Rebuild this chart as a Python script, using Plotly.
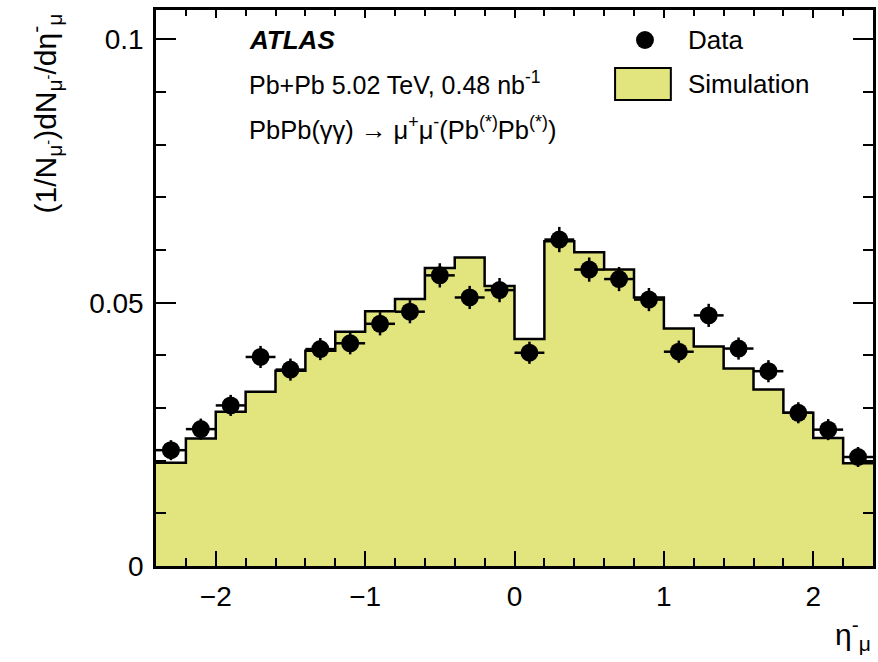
import plotly.graph_objects as go

# Bin layout in eta of the negative muon
bin_edges = [-2.4, -2.2, -2.0, -1.8, -1.6, -1.4, -1.2, -1.0, -0.8, -0.6, -0.4, -0.2,
             0.0, 0.2, 0.4, 0.6, 0.8, 1.0, 1.2, 1.4, 1.6, 1.8, 2.0, 2.2, 2.4]
bin_centers = [-2.3, -2.1, -1.9, -1.7, -1.5, -1.3, -1.1, -0.9, -0.7, -0.5, -0.3, -0.1,
               0.1, 0.3, 0.5, 0.7, 0.9, 1.1, 1.3, 1.5, 1.7, 1.9, 2.1, 2.3]
bin_half_width = [0.1] * 24

# Measured normalised distribution
data_values = [0.0220, 0.0260, 0.0305, 0.0397, 0.0373, 0.0412, 0.0423, 0.0460,
               0.0483, 0.0552, 0.0510, 0.0524, 0.0405, 0.0620, 0.0563, 0.0545,
               0.0506, 0.0407, 0.0476, 0.0413, 0.0370, 0.0291, 0.0259, 0.0207]
data_errors = [0.0019, 0.0020, 0.0020, 0.0021, 0.0021, 0.0021, 0.0021, 0.0022,
               0.0022, 0.0023, 0.0022, 0.0023, 0.0021, 0.0024, 0.0023, 0.0023,
               0.0022, 0.0021, 0.0022, 0.0021, 0.0021, 0.0020, 0.0020, 0.0019]

# Simulated distribution (one value per bin)
sim_values = [0.0196, 0.0242, 0.0293, 0.0331, 0.0371, 0.0409, 0.0445, 0.0484,
              0.0507, 0.0566, 0.0586, 0.0532, 0.0431, 0.0617, 0.0596, 0.0563,
              0.0510, 0.0451, 0.0417, 0.0375, 0.0335, 0.0291, 0.0243, 0.0195]

X_RANGE = [-2.4, 2.4]
Y_RANGE = [0, 0.1056]

FONT = "Liberation Sans, Arial, Helvetica, sans-serif"
FILL = "#E2E47E"

fig = go.Figure()

# Simulation histogram as a filled step outline
fig.add_trace(go.Scatter(
    x=bin_edges,
    y=sim_values + [sim_values[-1]],
    mode="lines",
    line=dict(shape="hv", color="black", width=2.5),
    fill="tozeroy",
    fillcolor=FILL,
    hoverinfo="skip",
    showlegend=False,
))

# Data points with bin-width and statistical error bars
fig.add_trace(go.Scatter(
    x=bin_centers,
    y=data_values,
    mode="markers",
    marker=dict(color="black", size=18, symbol="circle"),
    error_x=dict(type="data", array=bin_half_width, color="black", thickness=2.5, width=0),
    error_y=dict(type="data", array=data_errors, color="black", thickness=2.5, width=0),
    showlegend=False,
))

# Placeholder trace so the top/right frame axes are drawn
fig.add_trace(go.Scatter(
    x=[0], y=[0], xaxis="x2", yaxis="y2", mode="markers",
    marker=dict(opacity=0), hoverinfo="skip", showlegend=False,
))

fig.update_layout(
    width=878, height=662,
    margin=dict(l=156, r=2, t=10, b=96),
    paper_bgcolor="white", plot_bgcolor="white",
    font=dict(family=FONT, color="black", size=28),
    showlegend=False,
    xaxis=dict(
        range=X_RANGE, tickmode="linear", tick0=0, dtick=1,
        ticks="inside", ticklen=15, tickwidth=2, tickcolor="black",
        minor=dict(tickmode="linear", tick0=0, dtick=0.2, ticks="inside", ticklen=8,
                   tickwidth=2, tickcolor="black"),
        showline=True, linewidth=2.5, linecolor="black", mirror=True,
        showgrid=False, zeroline=False,
        tickfont=dict(size=28), ticklabelstandoff=4,
    ),
    yaxis=dict(
        range=Y_RANGE, tickmode="array", tickvals=[0, 0.05, 0.1],
        ticktext=["0", "0.05", "0.1"],
        ticks="inside", ticklen=20, tickwidth=2, tickcolor="black",
        minor=dict(tickmode="linear", tick0=0, dtick=0.01, ticks="inside", ticklen=10,
                   tickwidth=2, tickcolor="black"),
        showline=True, linewidth=2.5, linecolor="black", mirror=True,
        showgrid=False, zeroline=False,
        tickfont=dict(size=28), ticklabelstandoff=4,
    ),
    # Top frame axis: short ticks, no labels
    xaxis2=dict(
        overlaying="x", side="top", anchor="y", range=X_RANGE,
        tickmode="linear", tick0=0, dtick=1,
        ticks="inside", ticklen=8, tickwidth=2, tickcolor="black",
        minor=dict(tickmode="linear", tick0=0, dtick=0.2, ticks="inside", ticklen=6,
                   tickwidth=2, tickcolor="black"),
        showticklabels=False, showline=False, showgrid=False, zeroline=False,
    ),
    # Right frame axis: same ticks as the left one, no labels
    yaxis2=dict(
        overlaying="y", side="right", anchor="x", range=Y_RANGE,
        tickmode="array", tickvals=[0, 0.05, 0.1],
        ticks="inside", ticklen=20, tickwidth=2, tickcolor="black",
        minor=dict(tickmode="linear", tick0=0, dtick=0.01, ticks="inside", ticklen=10,
                   tickwidth=2, tickcolor="black"),
        showticklabels=False, showline=False, showgrid=False, zeroline=False,
    ),
)

# Axis titles
fig.add_annotation(
    xref="paper", yref="paper", x=-0.155, y=0.997, xanchor="center", yanchor="top",
    text="(1/N<sub>μ<sup>-</sup></sub>)dN<sub>μ<sup>-</sup></sub>/dη<sup>-</sup><sub>μ</sub>",
    textangle=-90, showarrow=False, font=dict(size=30),
)
fig.add_annotation(
    xref="paper", yref="paper", x=1.0, y=-0.122, xanchor="right", yanchor="middle",
    text="η<sup>-</sup><sub>μ</sub>", showarrow=False, font=dict(size=30),
)

# Labels in the upper left
fig.add_annotation(
    xref="paper", yref="paper", x=0.1264, y=0.946, xanchor="left", yanchor="middle",
    text="<b><i>ATLAS</i></b>", showarrow=False, font=dict(size=26),
)
fig.add_annotation(
    xref="paper", yref="paper", x=0.1264, y=0.869, xanchor="left", yanchor="middle",
    text="Pb+Pb 5.02 TeV, 0.48 nb<sup>-1</sup>", showarrow=False, font=dict(size=25),
)
fig.add_annotation(
    xref="paper", yref="paper", x=0.1264, y=0.787, xanchor="left", yanchor="middle",
    text="PbPb(γγ) → μ<sup>+</sup>μ<sup>-</sup>(Pb<sup>(*)</sup>Pb<sup>(*)</sup>)",
    showarrow=False, font=dict(size=25.5),
)

# Legend entries
fig.add_shape(
    type="circle", xref="paper", yref="paper",
    x0=(638 - 156) / 720, x1=(656 - 156) / 720,
    y0=(566 - 49) / 556, y1=(566 - 31) / 556,
    fillcolor="black", line=dict(color="black", width=0),
)
fig.add_annotation(
    xref="paper", yref="paper", x=(688 - 156) / 720, y=0.946, xanchor="left",
    yanchor="middle", text="Data", showarrow=False, font=dict(size=26),
)
fig.add_shape(
    type="rect", xref="paper", yref="paper",
    x0=(617 - 156) / 720, x1=(673 - 156) / 720,
    y0=(566 - 100) / 556, y1=(566 - 68) / 556,
    fillcolor=FILL, line=dict(color="black", width=2),
)
fig.add_annotation(
    xref="paper", yref="paper", x=(688 - 156) / 720, y=0.867, xanchor="left",
    yanchor="middle", text="Simulation", showarrow=False, font=dict(size=26),
)

fig.write_html("out.html")
